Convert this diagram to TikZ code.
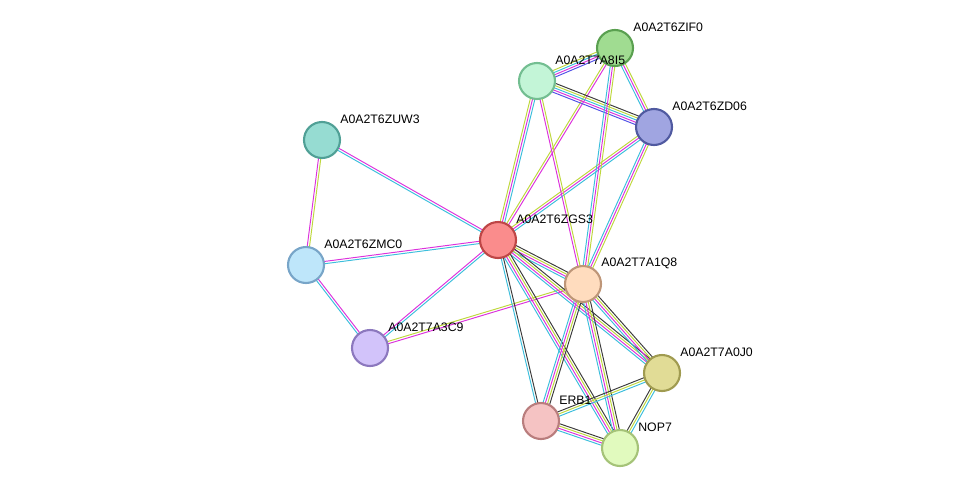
\documentclass[tikz,border=0pt]{standalone}
\usepackage{fontspec}
\setmainfont{Liberation Sans}
\usetikzlibrary{calc,backgrounds}
\definecolor{ecyan}{RGB}{60,190,220}
\definecolor{emag}{RGB}{220,50,220}
\definecolor{eyel}{RGB}{190,215,60}
\definecolor{eblk}{RGB}{60,60,60}
\definecolor{eblu}{RGB}{80,80,230}
\definecolor{fzif}{RGB}{160,220,145}\definecolor{dzif}{RGB}{90,160,80}
\definecolor{fa8i}{RGB}{195,245,215}\definecolor{da8i}{RGB}{115,190,145}
\definecolor{fzd}{RGB}{160,165,225}\definecolor{dzd}{RGB}{80,90,160}
\definecolor{fzuw}{RGB}{150,220,210}\definecolor{dzuw}{RGB}{80,160,150}
\definecolor{fzgs}{RGB}{250,140,140}\definecolor{dzgs}{RGB}{190,70,70}
\definecolor{fzmc}{RGB}{190,230,250}\definecolor{dzmc}{RGB}{120,165,200}
\definecolor{fa1q}{RGB}{255,220,190}\definecolor{da1q}{RGB}{190,150,120}
\definecolor{fa3c}{RGB}{210,195,250}\definecolor{da3c}{RGB}{140,120,190}
\definecolor{fa0j}{RGB}{225,220,150}\definecolor{da0j}{RGB}{160,155,80}
\definecolor{ferb}{RGB}{245,195,195}\definecolor{derb}{RGB}{185,125,125}
\definecolor{fnop}{RGB}{225,250,190}\definecolor{dnop}{RGB}{165,195,120}
\tikzset{
  prot/.style = {circle, draw, line width=1.2pt, minimum size=0.72cm, inner sep=0pt},
  lab/.style = {anchor=west, font=\fontsize{7}{8}\selectfont, inner sep=0pt},
  edge/.style = {line width=0.55pt},
}
% one link: end nodes, number of strands, strand colours
\newcommand\lnk[4]{%
  \foreach \c [count=\i] in {#4}{%
    \draw[\c,edge] ($(#1)!{(\i-(#3+1)/2)*1.3pt}!90:(#2)$) -- ($(#2)!{(\i-(#3+1)/2)*1.3pt}!-90:(#1)$);
  }}
\begin{document}
\begin{tikzpicture}[x=0.02cm,y=-0.02cm]
  \useasboundingbox (0,0) rectangle (976,494);
  \foreach \n/\x/\y/\t in {
      zif/615/48/A0A2T6ZIF0, a8i/537/81/A0A2T7A8I5, zd/654/127/A0A2T6ZD06,
      zuw/322/140/A0A2T6ZUW3, zgs/498/240/A0A2T6ZGS3, zmc/306/265/A0A2T6ZMC0,
      a1q/583/284/A0A2T7A1Q8, a3c/370/348/A0A2T7A3C9, a0j/662/373/A0A2T7A0J0,
      erb/541/421/ERB1, nop/620/448/NOP7}{
    \node[prot, fill=f\n, draw=d\n] (\n) at (\x,\y) {};
    \node[lab] (\n-l) at (\x+18,\y-21) {\t};
  }
  \begin{scope}[on background layer]
    \lnk{zuw}{zgs}{2}{ecyan,emag}
    \lnk{zuw}{zmc}{2}{emag,eyel}
    \lnk{zmc}{zgs}{2}{ecyan,emag}
    \lnk{zmc}{a3c}{2}{ecyan,emag}
    \lnk{a3c}{zgs}{2}{ecyan,emag}
    \lnk{a3c}{a1q}{2}{emag,eyel}
    \lnk{zgs}{a8i}{3}{ecyan,emag,eyel}
    \lnk{zgs}{zif}{2}{emag,eyel}
    \lnk{zgs}{zd}{3}{ecyan,emag,eyel}
    \lnk{zgs}{a1q}{4}{ecyan,emag,eyel,eblk}
    \lnk{zgs}{a0j}{4}{ecyan,emag,eyel,eblk}
    \lnk{zgs}{erb}{2}{ecyan,eblk}
    \lnk{zgs}{nop}{4}{ecyan,emag,eyel,eblk}
    \lnk{a8i}{zif}{4}{eblu,emag,ecyan,eyel}
    \lnk{a8i}{zd}{5}{eblu,emag,ecyan,eyel,eblk}
    \lnk{zif}{zd}{3}{ecyan,emag,eyel}
    \lnk{a8i}{a1q}{2}{emag,eyel}
    \lnk{zif}{a1q}{3}{ecyan,emag,eyel}
    \lnk{zd}{a1q}{3}{ecyan,emag,eyel}
    \lnk{a1q}{a0j}{4}{ecyan,emag,eyel,eblk}
    \lnk{a1q}{erb}{4}{ecyan,emag,eyel,eblk}
    \lnk{a1q}{nop}{4}{ecyan,emag,eyel,eblk}
    \lnk{erb}{nop}{4}{ecyan,emag,eyel,eblk}
    \lnk{erb}{a0j}{3}{ecyan,eyel,eblk}
    \lnk{nop}{a0j}{3}{ecyan,eyel,eblk}
  \end{scope}
\end{tikzpicture}
\end{document}
